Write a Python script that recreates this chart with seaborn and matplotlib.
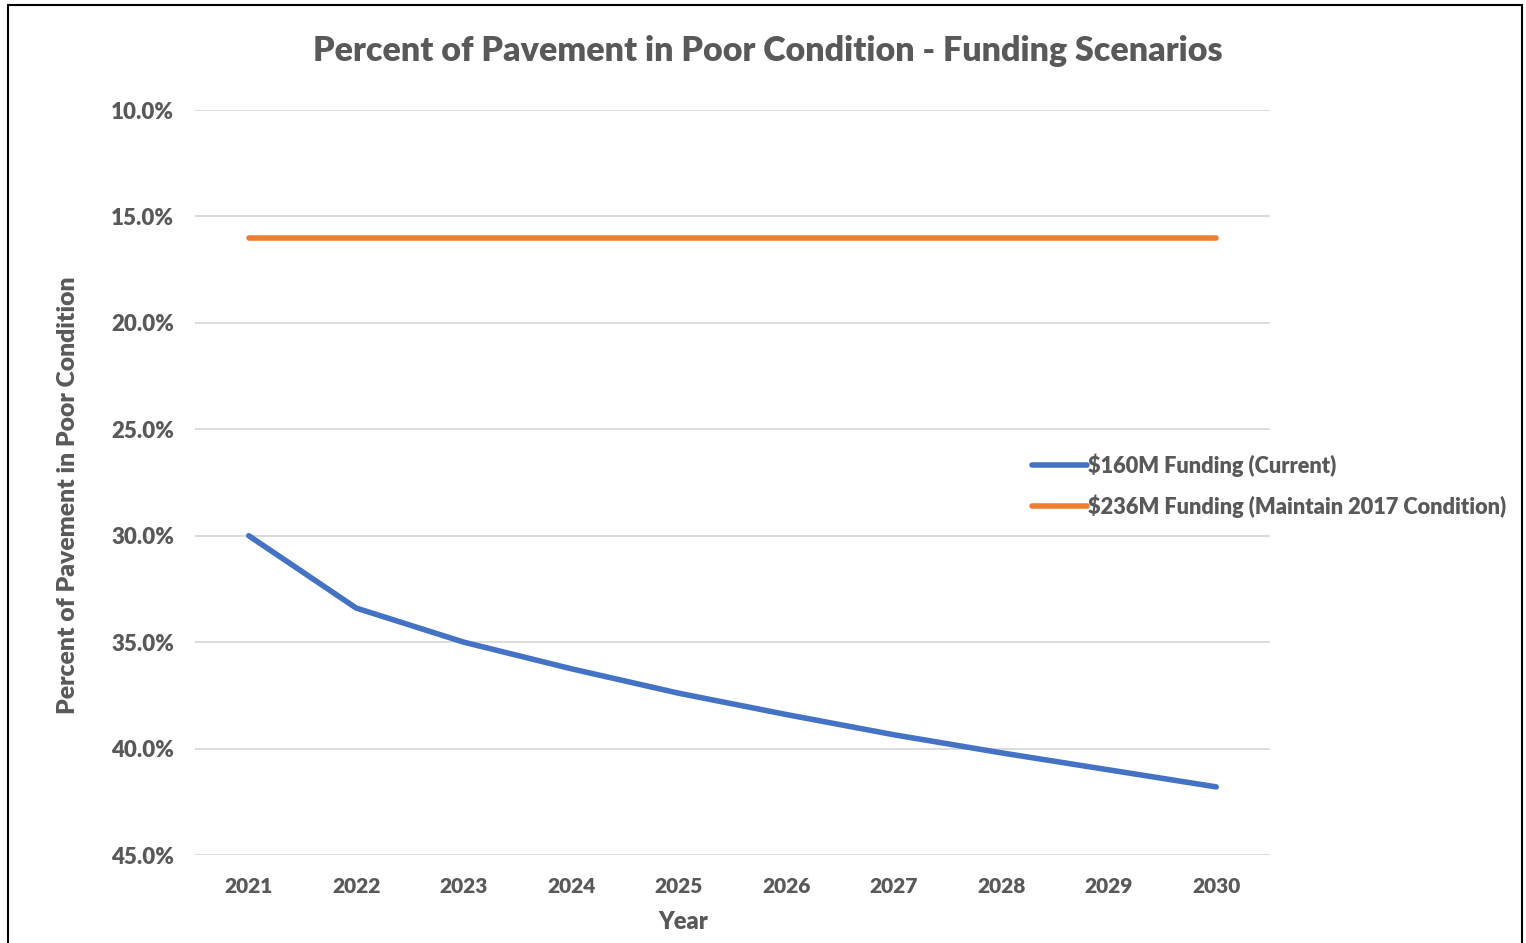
import numpy as np
import pandas as pd
import matplotlib
matplotlib.use("Agg")
import matplotlib.pyplot as plt
import seaborn as sns
from matplotlib.patches import Rectangle

years = ["2021", "2022", "2023", "2024", "2025", "2026", "2027", "2028", "2029", "2030"]
current = [30.0, 33.4, 35.0, 36.25, 37.4, 38.4, 39.35, 40.2, 41.0, 41.8]
maintain = [16.0, 16.0, 16.0, 16.0, 16.0, 16.0, 16.0, 16.0, 16.0, 16.0]
series_names = ["$160M Funding (Current)", "$236M Funding (Maintain 2017 Condition)"]
yticks = [10, 15, 20, 25, 30, 35, 40, 45]

df = pd.DataFrame({
    "Year": years * 2,
    "Value": current + maintain,
    "Series": [series_names[0]] * len(years) + [series_names[1]] * len(years),
})

sns.set_theme(style="white")
plt.rcParams["font.family"] = ["Lato", "DejaVu Sans"]
TXT = "#595959"
W = "heavy"

fig = plt.figure(figsize=(15.26, 9.43), dpi=100)
ax = fig.add_axes([195 / 1526, 1 - 855 / 943, (1270 - 195) / 1526, (855 - 110) / 943])

sns.lineplot(data=df, x="Year", y="Value", hue="Series", ax=ax,
             palette=["#4472C4", "#ED7D31"], linewidth=4, sort=False,
             legend=True)

ax.set_xlim(-0.5, len(years) - 0.5)
ax.set_ylim(45, 10)
ax.set_yticks(yticks)
ax.set_yticklabels([f"{v:.1f}%" for v in yticks])
for s in ax.spines.values():
    s.set_visible(False)
ax.grid(axis="y", color="#D9D9D9", linewidth=1.3)
ax.grid(axis="x", visible=False)
ax.tick_params(axis="x", length=0, labelsize=15, labelcolor=TXT, pad=16)
ax.tick_params(axis="y", length=0, labelsize=16, labelcolor=TXT, pad=15)
for lab in ax.get_xticklabels() + ax.get_yticklabels():
    lab.set_fontweight(W)

ax.set_xlabel("Year", fontsize=17, fontweight=W, color=TXT)
ax.xaxis.set_label_coords((683 - 195) / 1075, -(922 - 855) / 745)
ax.xaxis.label.set_va("center")
ax.set_ylabel("Percent of Pavement in Poor Condition", fontsize=17.8,
              fontweight=W, color=TXT)
ax.yaxis.set_label_coords(-(195 - 68) / 1075, (855 - 495) / 745)
ax.yaxis.label.set_va("center")

fig.text(768 / 1526, 1 - 51 / 943, "Percent of Pavement in Poor Condition - Funding Scenarios",
         ha="center", va="center", fontsize=24.5, fontweight=W, color=TXT)

leg = ax.legend(loc="upper left", bbox_to_anchor=(1012 / 1526, 1 - 434 / 943),
                bbox_transform=fig.transFigure, frameon=False,
                prop={"size": 15.7, "weight": W}, handlelength=2.55,
                handletextpad=0.05, labelspacing=0.8)
for t in leg.get_texts():
    t.set_color(TXT)
for h in leg.get_lines():
    h.set_linewidth(4)

fig.patches.append(Rectangle((8 / 1526, -0.01), (1522 - 8) / 1526, 1.01 - 5 / 943,
                             transform=fig.transFigure, fill=False,
                             edgecolor="black", linewidth=1.5))

fig.savefig("out.png", dpi=100)
